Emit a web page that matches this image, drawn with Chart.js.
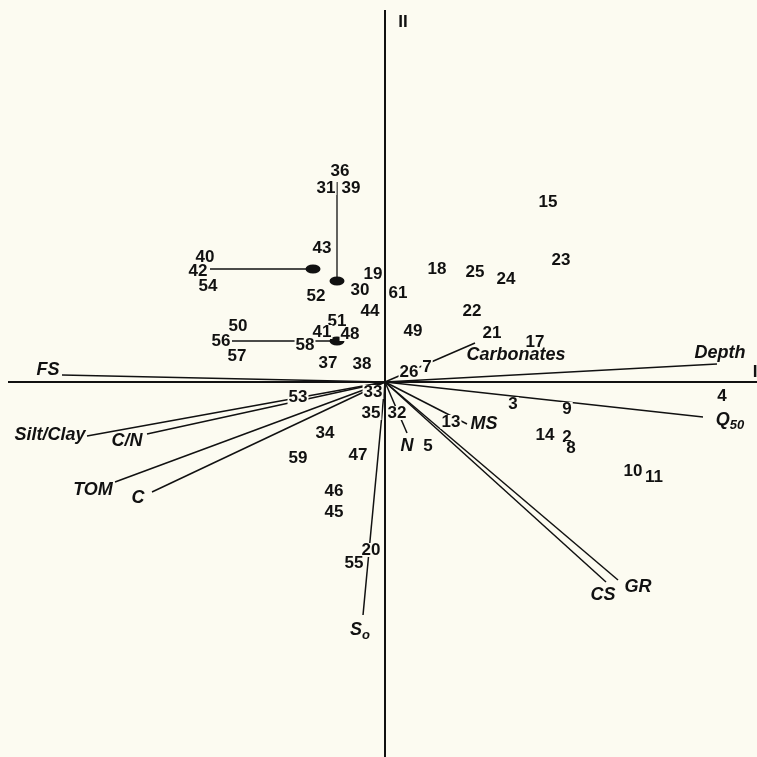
<!DOCTYPE html>
<html>
<head>
<meta charset="utf-8">
<script src="https://cdn.jsdelivr.net/npm/chart.js@4.4.1/dist/chart.umd.min.js"></script>
<style>
  html, body { margin: 0; padding: 0; background: #fcfbf1; }
  #wrap { width: 757px; height: 757px; position: relative; }
</style>
</head>
<body>
<div id="wrap"><canvas id="biplot"></canvas></div>
<script>
// PCA scores of the stations (axis I, axis II)
const sampleIds = ['36','31','39','43','40','42','54','19','30','52','61','44','51','50','41','48',
  '56','58','57','37','38','49','26','7','33','35','32','53','34','59','47','46','45','20','55',
  '5','13','3','9','14','2','8','10','11','4','21','17','22','15','23','18','25','24'];
const sampleX = [-0.45,-0.59,-0.34,-0.63,-1.80,-1.87,-1.77,-0.12,-0.25,-0.69,0.13,-0.15,-0.48,-1.47,-0.63,-0.35,
  -1.64,-0.80,-1.48,-0.57,-0.23,0.28,0.24,0.42,-0.12,-0.14,0.12,-0.87,-0.60,-0.87,-0.27,-0.51,-0.51,-0.14,-0.31,
  0.43,0.66,1.28,1.82,1.60,1.82,1.86,2.48,2.69,3.37,1.07,1.50,0.87,1.63,1.76,0.52,0.90,1.21];
const sampleY = [2.11,1.94,1.94,1.34,1.25,1.11,0.96,1.08,0.92,0.86,0.89,0.71,0.61,0.56,0.50,0.48,
  0.41,0.37,0.26,0.19,0.18,0.51,0.10,0.15,-0.10,-0.31,-0.31,-0.15,-0.51,-0.76,-0.73,-1.09,-1.30,-1.68,-1.81,
  -0.64,-0.40,-0.22,-0.27,-0.53,-0.55,-0.66,-0.89,-0.95,-0.14,0.49,0.40,0.71,1.80,1.22,1.13,1.10,1.03];

// variable loadings (vector ends) and where their names sit
const varNames = ['FS','Silt/Clay','C/N','TOM','C','Carbonates','Depth','Q','MS','N','S','CS','GR'];
const varSub   = ['','','','','','','','50','','','o','',''];
const varX = [-3.23,-2.98,-2.38,-2.70,-2.33,0.90,3.32,3.18,0.82,0.22,-0.22,2.21,2.33];
const varY = [0.07,-0.54,-0.52,-1.00,-1.10,0.39,0.18,-0.35,-0.42,-0.51,-2.33,-2.00,-1.98];
const varLabelX = [-3.37,-3.35,-2.58,-2.92,-2.47,1.31,3.35,3.45,0.99,0.22,-0.25,2.18,2.53];
const varLabelY = [0.12,-0.53,-0.59,-1.08,-1.16,0.27,0.29,-0.38,-0.42,-0.64,-2.48,-2.13,-2.05];

// group centroids and their leader lines
const centroidX = [-0.72,-0.48,-0.48];
const centroidY = [1.13,1.01,0.41];
const leaders = [
  [[-0.48,2.00],[-0.48,1.01]],
  [[-1.75,1.13],[-0.72,1.13]],
  [[-1.53,0.41],[-0.49,0.41]],
  [[-0.54,0.41],[-0.54,0.54]]
];

const axisNames = ['II','I'];
const axisNameX = [0.18,3.70];
const axisNameY = [3.60,0.10];

const BG = '#fcfbf1';
const INK = '#111111';

const ellipse = document.createElement('canvas');
ellipse.width = 16; ellipse.height = 10;
(function () {
  const c = ellipse.getContext('2d');
  c.fillStyle = INK;
  c.beginPath();
  c.ellipse(8, 5, 7.5, 4.6, 0, 0, Math.PI * 2);
  c.fill();
})();

function seg(a, b, width) {
  return {
    type: 'line',
    data: [{ x: a[0], y: a[1] }, { x: b[0], y: b[1] }],
    borderColor: INK, borderWidth: width, pointRadius: 0, showLine: true, fill: false, tension: 0
  };
}

const datasets = [];
datasets.push(seg([-3.77, 0], [3.80, 0], 2));
datasets.push(seg([0, 3.72], [0, -3.80], 2));
varX.forEach((x, i) => datasets.push(seg([0, 0], [x, varY[i]], 1.5)));
leaders.forEach(l => datasets.push(seg(l[0], l[1], 1.3)));
datasets.push({
  type: 'scatter',
  data: centroidX.map((x, i) => ({ x: x, y: centroidY[i] })),
  pointStyle: ellipse, pointRadius: 8
});
const SAMPLE_DS = datasets.length;
datasets.push({
  type: 'scatter',
  data: sampleX.map((x, i) => ({ x: x, y: sampleY[i] })),
  pointRadius: 0
});

const labelPlugin = {
  id: 'labels',
  beforeDraw(chart) {
    const ctx = chart.ctx;
    ctx.save();
    ctx.fillStyle = BG;
    ctx.fillRect(0, 0, chart.width, chart.height);
    ctx.restore();
  },
  afterDatasetsDraw(chart) {
    const ctx = chart.ctx;
    const sx = chart.scales.x, sy = chart.scales.y;
    ctx.save();
    ctx.textBaseline = 'middle';
    ctx.textAlign = 'center';

    // station numbers, knocking out the lines underneath
    ctx.font = 'bold 17px "Liberation Sans", Arial, sans-serif';
    chart.getDatasetMeta(SAMPLE_DS).data.forEach((pt, i) => {
      const w = ctx.measureText(sampleIds[i]).width;
      ctx.fillStyle = BG;
      ctx.fillRect(pt.x - w / 2 - 1, pt.y - 7, w + 2, 14);
      ctx.fillStyle = INK;
      ctx.fillText(sampleIds[i], pt.x, pt.y + 0.5);
    });

    // variable names
    const mainFont = 'italic bold 18px "Liberation Sans", Arial, sans-serif';
    const subFont = 'italic bold 13px "Liberation Sans", Arial, sans-serif';
    ctx.textAlign = 'left';
    ctx.fillStyle = INK;
    varNames.forEach((name, i) => {
      const px = sx.getPixelForValue(varLabelX[i]);
      const py = sy.getPixelForValue(varLabelY[i]);
      ctx.font = mainFont;
      const w1 = ctx.measureText(name).width;
      let w2 = 0;
      if (varSub[i]) { ctx.font = subFont; w2 = ctx.measureText(varSub[i]).width; }
      const left = px - (w1 + w2) / 2;
      ctx.font = mainFont;
      ctx.fillText(name, left, py);
      if (varSub[i]) {
        ctx.font = subFont;
        ctx.fillText(varSub[i], left + w1, py + 5);
      }
    });

    // axis names
    ctx.textAlign = 'center';
    ctx.font = 'bold 17px "Liberation Sans", Arial, sans-serif';
    axisNames.forEach((n, i) => {
      ctx.fillText(n, sx.getPixelForValue(axisNameX[i]), sy.getPixelForValue(axisNameY[i]));
    });
    ctx.restore();
  }
};

new Chart(document.getElementById('biplot'), {
  type: 'scatter',
  data: { datasets: datasets },
  options: {
    responsive: true,
    maintainAspectRatio: false,
    animation: false,
    layout: { padding: 0, autoPadding: false },
    plugins: { legend: { display: false }, tooltip: { enabled: false } },
    scales: {
      x: { type: 'linear', min: -3.85, max: 3.72, display: false },
      y: { type: 'linear', min: -3.75, max: 3.82, display: false }
    }
  },
  plugins: [labelPlugin]
});
</script>
</body>
</html>
